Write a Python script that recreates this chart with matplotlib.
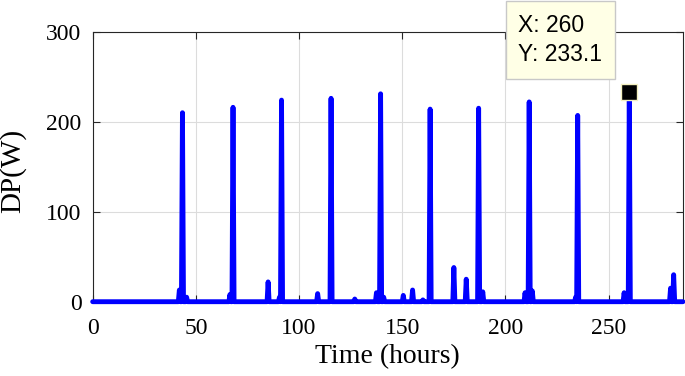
import matplotlib
matplotlib.use("Agg")
import matplotlib.pyplot as plt
import numpy as np

# spikes: hour, power (W)
spike_hours = [42, 43.5, 45.5, 66.5, 68, 85, 90.5, 91.5, 109, 115.5, 127,
               137.5, 139.5, 141, 150.5, 155, 160, 163.5, 175, 181, 187, 189,
               209.5, 211.5, 213, 234, 235, 257.5, 260, 280, 281.5]
spike_power = [13, 210, 5, 8, 216, 22, 5, 224, 9, 226, 3,
               10, 231, 5, 7, 13, 2, 214, 38, 25, 215, 11,
               10, 222, 12, 5, 207, 10, 233.1, 15, 30]
end_hour = 286

tip_x, tip_y = 260, 233.1

# half-hourly series, zero outside the spikes
hours = np.arange(0, end_hour + 0.5, 0.5)
power = np.zeros_like(hours)
for h, p in zip(spike_hours, spike_power):
    power[int(round(h * 2))] = p

fig = plt.figure(figsize=(6.85, 3.76), dpi=100)
ax = fig.add_axes([0.1353, 0.1976, 0.997 - 0.1353, 0.9157 - 0.1976])

ax.plot(hours, power, color=(0, 0, 1), lw=3.5, solid_joinstyle='round',
        solid_capstyle='round', clip_on=False, zorder=3)
ax.plot([tip_x], [tip_y], 's', ms=12, mfc='black', mec='#f4f0c0', mew=1,
        clip_on=False, zorder=5)

ax.set_xlim(0, end_hour)
ax.set_ylim(0, 300)
ax.set_xticks([0, 50, 100, 150, 200, 250])
ax.set_yticks([0, 100, 200, 300])
ax.grid(True, color='#dcdcdc', lw=0.8)
ax.set_axisbelow(True)
for s in ax.spines.values():
    s.set_color('#262626')
    s.set_linewidth(0.8)
ax.tick_params(direction='in', top=True, right=True, length=5, width=0.8,
               color='#262626', labelsize=17)
ax.tick_params(axis='x', pad=12)
ax.tick_params(axis='y', pad=8)
for lab in ax.get_xticklabels() + ax.get_yticklabels():
    lab.set_family('Liberation Serif')

ax.set_xlabel('Time (hours)', family='Liberation Serif', fontsize=20)
ax.set_ylabel('DP(W)', family='Liberation Serif', fontsize=21)
ax.xaxis.set_label_coords(0.5, -0.156)
ax.yaxis.set_label_coords(-0.113, 0.484)

# data tip box
ax.annotate('X: 260\nY: 233.1', xy=(tip_x, tip_y), xytext=(-69, 52),
            textcoords='offset pixels', ha='center', va='center',
            multialignment='left',
            family='Liberation Sans', fontsize=16.5, linespacing=1.35,
            bbox=dict(boxstyle='square,pad=0.55', fc='#ffffe6', ec='#c8c8c8', lw=1),
            annotation_clip=False, zorder=6)

fig.savefig('out.png', dpi=100)
